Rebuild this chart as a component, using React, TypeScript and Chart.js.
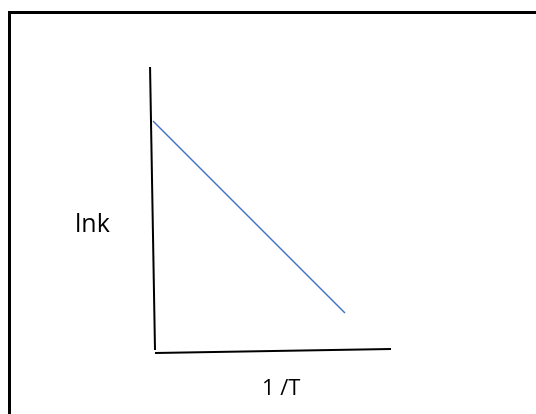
import React, { useEffect, useRef } from "react";
import { Chart, registerables } from "chart.js";

Chart.register(...registerables);

// Hand-drawn Arrhenius sketch: ln k against 1/T (arbitrary units, axis origin at 0,0)
const yAxisTitle = "lnk";
const xAxisTitle = "1 /T";

// the straight line ln k = ln A - Ea/(R T)
const arrheniusX = [-0.0085, 0.805];
const arrheniusY = [0.81, 0.134];

// the slightly slanted hand-drawn axes
const verticalAxisX = [-0.021, 0];
const verticalAxisY = [1, 0.0035];
const horizontalAxisX = [0, 1];
const horizontalAxisY = [-0.007, 0.007];

const toPoints = (xs: number[], ys: number[]) => xs.map((x, i) => ({ x, y: ys[i] }));

const framePlugin = {
  id: "frameAndLabels",
  afterDraw(chart: any) {
    const { ctx, chartArea, scales } = chart;
    ctx.save();
    // outer frame (clipped by right/bottom edge of the picture)
    ctx.strokeStyle = "#000000";
    ctx.lineWidth = 3;
    ctx.strokeRect(9.5, 12.5, chart.width + 20, chart.height + 20);
    // labels
    ctx.fillStyle = "#000000";
    ctx.textBaseline = "alphabetic";
    ctx.textAlign = "left";
    ctx.font = '25px "Open Sans"';
    const x0 = scales.x.getPixelForValue(0);
    const y0 = scales.y.getPixelForValue(0);
    ctx.fillText(yAxisTitle, x0 - 80, chartArea.top + 165);
    ctx.font = '22px "Open Sans"';
    ctx.fillText(xAxisTitle, x0 + 107, y0 + 44);
    ctx.restore();
  },
};

export default function App() {
  const ref = useRef<HTMLCanvasElement | null>(null);
  useEffect(() => {
    if (!ref.current) return;
    const chart = new Chart(ref.current, {
      type: "scatter",
      data: {
        datasets: [
          {
            label: "y axis",
            data: toPoints(verticalAxisX, verticalAxisY),
            showLine: true,
            borderColor: "#000000",
            borderWidth: 2,
            pointRadius: 0,
          },
          {
            label: "x axis",
            data: toPoints(horizontalAxisX, horizontalAxisY),
            showLine: true,
            borderColor: "#000000",
            borderWidth: 2,
            pointRadius: 0,
          },
          {
            label: "ln k",
            data: toPoints(arrheniusX, arrheniusY),
            showLine: true,
            borderColor: "#4472C4",
            borderWidth: 1.5,
            pointRadius: 0,
          },
        ],
      },
      options: {
        responsive: false,
        animation: false,
        layout: { padding: { left: 155, right: 145, top: 67, bottom: 63 } },
        plugins: { legend: { display: false }, tooltip: { enabled: false } },
        scales: {
          x: { type: "linear", min: 0, max: 1, display: false },
          y: { type: "linear", min: 0, max: 1, display: false },
        },
        clip: false as any,
      },
      plugins: [framePlugin],
    });
    return () => chart.destroy();
  }, []);
  return (
    <div style={{ position: "absolute", left: 0, top: 0, width: 536, height: 414, background: "#ffffff" }}>
      <canvas ref={ref} width={536} height={414} />
    </div>
  );
}
